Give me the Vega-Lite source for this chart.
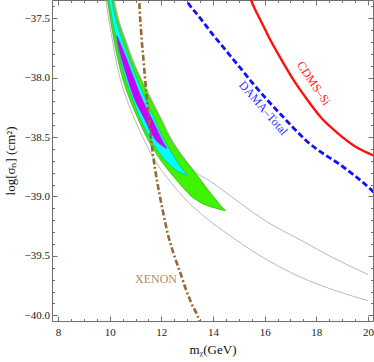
{
  "$schema": "https://vega.github.io/schema/vega-lite/v6.json",
  "width": 321,
  "height": 321,
  "autosize": {"type": "none"},
  "padding": {"left": 52, "top": 0, "right": 1, "bottom": 41},
  "background": "white",
  "config": {
    "view": {"stroke": null},
    "font": "Liberation Serif",
    "axis": {
      "grid": false,
      "domainColor": "#707070",
      "tickColor": "#707070",
      "labelFont": "Liberation Serif",
      "labelFontSize": 11,
      "labelColor": "#222222",
      "titleFont": "Liberation Serif",
      "titleFontSize": 13,
      "titleFontWeight": "normal",
      "titleColor": "#111111",
      "labelFlush": false,
      "labelOverlap": false
    }
  },
  "datasets": {
    "gray": [
      {"curve": "upper", "x": 9.996, "y": -37.178},
      {"curve": "upper", "x": 10.182, "y": -37.346},
      {"curve": "upper", "x": 10.357, "y": -37.514},
      {"curve": "upper", "x": 10.629, "y": -37.683},
      {"curve": "upper", "x": 10.901, "y": -37.851},
      {"curve": "upper", "x": 11.25, "y": -38.019},
      {"curve": "upper", "x": 11.639, "y": -38.188},
      {"curve": "upper", "x": 12.027, "y": -38.356},
      {"curve": "upper", "x": 12.416, "y": -38.524},
      {"curve": "upper", "x": 12.804, "y": -38.651},
      {"curve": "upper", "x": 13.231, "y": -38.777},
      {"curve": "upper", "x": 13.891, "y": -38.87},
      {"curve": "upper", "x": 14.785, "y": -39.013},
      {"curve": "upper", "x": 16.105, "y": -39.215},
      {"curve": "upper", "x": 17.387, "y": -39.366},
      {"curve": "upper", "x": 18.668, "y": -39.518},
      {"curve": "upper", "x": 20.0, "y": -39.657},
      {"curve": "lower", "x": 9.736, "y": -37.178},
      {"curve": "lower", "x": 9.852, "y": -37.346},
      {"curve": "lower", "x": 9.969, "y": -37.514},
      {"curve": "lower", "x": 10.105, "y": -37.683},
      {"curve": "lower", "x": 10.241, "y": -37.851},
      {"curve": "lower", "x": 10.42, "y": -38.019},
      {"curve": "lower", "x": 10.67, "y": -38.188},
      {"curve": "lower", "x": 10.98, "y": -38.356},
      {"curve": "lower", "x": 11.33, "y": -38.524},
      {"curve": "lower", "x": 11.63, "y": -38.651},
      {"curve": "lower", "x": 12.0, "y": -38.777},
      {"curve": "lower", "x": 12.454, "y": -38.903},
      {"curve": "lower", "x": 12.959, "y": -39.029},
      {"curve": "lower", "x": 13.503, "y": -39.139},
      {"curve": "lower", "x": 14.785, "y": -39.349},
      {"curve": "lower", "x": 16.105, "y": -39.535},
      {"curve": "lower", "x": 17.387, "y": -39.678},
      {"curve": "lower", "x": 18.668, "y": -39.787},
      {"curve": "lower", "x": 20.0, "y": -39.877}
    ],
    "green": [
      {"y": -37.178, "x1": 9.775, "x2": 9.988},
      {"y": -37.346, "x1": 9.911, "x2": 10.144},
      {"y": -37.514, "x1": 10.027, "x2": 10.318},
      {"y": -37.683, "x1": 10.163, "x2": 10.59},
      {"y": -37.851, "x1": 10.318, "x2": 10.862},
      {"y": -38.019, "x1": 10.513, "x2": 11.212},
      {"y": -38.188, "x1": 10.785, "x2": 11.6},
      {"y": -38.356, "x1": 11.115, "x2": 11.988},
      {"y": -38.524, "x1": 11.484, "x2": 12.377},
      {"y": -38.651, "x1": 11.833, "x2": 12.765},
      {"y": -38.777, "x1": 12.26, "x2": 13.231},
      {"y": -38.878, "x1": 12.649, "x2": 13.581},
      {"y": -38.945, "x1": 12.92, "x2": 13.814},
      {"y": -39.029, "x1": 13.348, "x2": 14.125},
      {"y": -39.08, "x1": 13.814, "x2": 14.319},
      {"y": -39.118, "x1": 14.435, "x2": 14.493}
    ],
    "cyan": [
      {"y": -37.178, "x1": 9.852, "x2": 10.008},
      {"y": -37.346, "x1": 9.969, "x2": 10.085},
      {"y": -37.514, "x1": 10.105, "x2": 10.241},
      {"y": -37.683, "x1": 10.26, "x2": 10.493},
      {"y": -37.851, "x1": 10.416, "x2": 10.765},
      {"y": -38.019, "x1": 10.629, "x2": 11.076},
      {"y": -38.188, "x1": 10.901, "x2": 11.406},
      {"y": -38.356, "x1": 11.212, "x2": 11.755},
      {"y": -38.524, "x1": 11.6, "x2": 12.105},
      {"y": -38.651, "x1": 11.988, "x2": 12.454},
      {"y": -38.735, "x1": 12.338, "x2": 12.688},
      {"y": -38.794, "x1": 12.688, "x2": 12.901},
      {"y": -38.819, "x1": 12.959, "x2": 12.998}
    ],
    "magenta": [
      {"y": -37.649, "x1": 10.272, "x2": 10.291},
      {"y": -37.725, "x1": 10.326, "x2": 10.435},
      {"y": -37.851, "x1": 10.474, "x2": 10.668},
      {"y": -38.019, "x1": 10.707, "x2": 10.959},
      {"y": -38.188, "x1": 10.979, "x2": 11.27},
      {"y": -38.356, "x1": 11.367, "x2": 11.658},
      {"y": -38.482, "x1": 11.658, "x2": 11.93},
      {"y": -38.55, "x1": 11.891, "x2": 12.085},
      {"y": -38.594, "x1": 12.183, "x2": 12.214}
    ],
    "xenon": [
      {"x": 11.134, "y": -37.262},
      {"x": 11.146, "y": -37.346},
      {"x": 11.212, "y": -37.599},
      {"x": 11.309, "y": -37.851},
      {"x": 11.445, "y": -38.188},
      {"x": 11.561, "y": -38.44},
      {"x": 11.678, "y": -38.651},
      {"x": 11.833, "y": -38.87},
      {"x": 11.95, "y": -39.004},
      {"x": 12.066, "y": -39.131},
      {"x": 12.26, "y": -39.324},
      {"x": 12.532, "y": -39.518},
      {"x": 12.765, "y": -39.661},
      {"x": 12.959, "y": -39.787},
      {"x": 13.192, "y": -39.913},
      {"x": 13.464, "y": -40.048},
      {"x": 13.542, "y": -40.124}
    ],
    "dama": [
      {"x": 12.843, "y": -37.304},
      {"x": 12.959, "y": -37.346},
      {"x": 13.503, "y": -37.498},
      {"x": 14.008, "y": -37.641},
      {"x": 14.552, "y": -37.784},
      {"x": 15.056, "y": -37.918},
      {"x": 15.561, "y": -38.053},
      {"x": 16.105, "y": -38.188},
      {"x": 16.61, "y": -38.306},
      {"x": 17.115, "y": -38.423},
      {"x": 17.581, "y": -38.524},
      {"x": 18.008, "y": -38.6},
      {"x": 18.474, "y": -38.668},
      {"x": 18.94, "y": -38.735},
      {"x": 19.406, "y": -38.811},
      {"x": 19.833, "y": -38.886},
      {"x": 20.26, "y": -38.971}
    ],
    "cdms": [
      {"x": 15.406, "y": -37.304},
      {"x": 15.472, "y": -37.346},
      {"x": 15.639, "y": -37.43},
      {"x": 15.833, "y": -37.514},
      {"x": 16.027, "y": -37.599},
      {"x": 16.221, "y": -37.683},
      {"x": 16.61, "y": -37.834},
      {"x": 17.115, "y": -38.019},
      {"x": 17.658, "y": -38.188},
      {"x": 18.163, "y": -38.331},
      {"x": 18.823, "y": -38.466},
      {"x": 19.445, "y": -38.57},
      {"x": 20.26, "y": -38.659}
    ],
    "labels": [
      {"name": "XENON", "x": 11.794, "y": -39.697},
      {"name": "DAMA–Total", "x": 15.95, "y": -38.255},
      {"name": "CDMS–Si", "x": 17.903, "y": -38.047}
    ]
  },
  "resolve": {"axis": {"x": "independent", "y": "independent"}},
  "layer": [
    {
      "data": {"name": "gray"},
      "mark": {"type": "line", "clip": true, "color": "#a6a6a6", "strokeWidth": 0.8, "interpolate": "monotone"},
      "encoding": {
        "x": {"field": "x", "type": "quantitative",
          "scale": {"domain": [7.767, 20.194], "nice": false, "zero": false},
          "axis": {
            "orient": "bottom",
            "values": [8, 8.5, 9, 9.5, 10, 10.5, 11, 11.5, 12, 12.5, 13, 13.5, 14, 14.5, 15, 15.5, 16, 16.5, 17, 17.5, 18, 18.5, 19, 19.5, 20],
            "labelExpr": "datum.value % 2 === 0 ? format(datum.value, 'd') : ''",
            "tickSize": {"condition": {"test": "datum.value % 2 === 0", "value": -5}, "value": -2.5},
            "labelPadding": 10,
            "title": "mᵪ(GeV)",
            "titlePadding": 4
          }},
        "y": {"field": "y", "type": "quantitative",
          "scale": {"domain": [-40.048, -37.346], "nice": false, "zero": false},
          "axis": {
            "orient": "left",
            "values": [-40, -39.9, -39.8, -39.7, -39.6, -39.5, -39.4, -39.3, -39.2, -39.1, -39, -38.9, -38.8, -38.7, -38.6, -38.5, -38.4, -38.3, -38.2, -38.1, -38, -37.9, -37.8, -37.7, -37.6, -37.5, -37.4],
            "labelExpr": "abs(datum.value*2 - round(datum.value*2)) < 0.001 ? format(datum.value, '.1f') : ''",
            "tickSize": {"condition": {"test": "abs(datum.value*2 - round(datum.value*2)) < 0.001", "value": -5}, "value": -2.5},
            "labelPadding": 7.5,
            "title": "log[σₙ] (cm²)",
            "titlePadding": 7
          }},
        "detail": {"field": "curve"}
      }
    },
    {
      "data": {"name": "green"},
      "mark": {"type": "area", "orient": "horizontal", "interpolate": "monotone", "clip": true, "color": "#3ff200", "stroke": "#2c9a10", "strokeWidth": 0.6},
      "encoding": {
        "y": {"field": "y", "type": "quantitative", "scale": {"domain": [-40.048, -37.346], "nice": false, "zero": false}, "axis": null},
        "x": {"field": "x1", "type": "quantitative", "scale": {"domain": [7.767, 20.194], "nice": false, "zero": false}, "axis": null},
        "x2": {"field": "x2"}
      }
    },
    {
      "data": {"name": "cyan"},
      "mark": {"type": "area", "orient": "horizontal", "interpolate": "monotone", "clip": true, "color": "#00ffff", "stroke": "#1aa0a0", "strokeWidth": 0.6},
      "encoding": {
        "y": {"field": "y", "type": "quantitative", "scale": {"domain": [-40.048, -37.346], "nice": false, "zero": false}, "axis": null},
        "x": {"field": "x1", "type": "quantitative", "scale": {"domain": [7.767, 20.194], "nice": false, "zero": false}, "axis": null},
        "x2": {"field": "x2"}
      }
    },
    {
      "data": {"name": "magenta"},
      "mark": {"type": "area", "orient": "horizontal", "interpolate": "monotone", "clip": true, "color": "#cc00ff", "stroke": "#9a20c0", "strokeWidth": 0.6},
      "encoding": {
        "y": {"field": "y", "type": "quantitative", "scale": {"domain": [-40.048, -37.346], "nice": false, "zero": false}, "axis": null},
        "x": {"field": "x1", "type": "quantitative", "scale": {"domain": [7.767, 20.194], "nice": false, "zero": false}, "axis": null},
        "x2": {"field": "x2"}
      }
    },
    {
      "data": {"name": "xenon"},
      "mark": {"type": "line", "clip": true, "interpolate": "monotone", "color": "#9c6634", "strokeWidth": 2.6, "strokeDash": [6, 2.5, 2, 2.5]},
      "encoding": {
        "x": {"field": "x", "type": "quantitative", "scale": {"domain": [7.767, 20.194], "nice": false, "zero": false}, "axis": null},
        "y": {"field": "y", "type": "quantitative", "scale": {"domain": [-40.048, -37.346], "nice": false, "zero": false}, "axis": null}
      }
    },
    {
      "data": {"name": "dama"},
      "mark": {"type": "line", "clip": true, "interpolate": "monotone", "color": "#1010ff", "strokeWidth": 2.8, "strokeDash": [6, 3]},
      "encoding": {
        "x": {"field": "x", "type": "quantitative", "scale": {"domain": [7.767, 20.194], "nice": false, "zero": false}, "axis": null},
        "y": {"field": "y", "type": "quantitative", "scale": {"domain": [-40.048, -37.346], "nice": false, "zero": false}, "axis": null}
      }
    },
    {
      "data": {"name": "cdms"},
      "mark": {"type": "line", "clip": true, "interpolate": "monotone", "color": "#ff1010", "strokeWidth": 2.4},
      "encoding": {
        "x": {"field": "x", "type": "quantitative", "scale": {"domain": [7.767, 20.194], "nice": false, "zero": false},
          "axis": {
            "orient": "top",
            "values": [8, 8.5, 9, 9.5, 10, 10.5, 11, 11.5, 12, 12.5, 13, 13.5, 14, 14.5, 15, 15.5, 16, 16.5, 17, 17.5, 18, 18.5, 19, 19.5, 20],
            "labels": false,
            "title": null,
            "tickSize": {"condition": {"test": "datum.value % 2 === 0", "value": -5}, "value": -2.5}
          }},
        "y": {"field": "y", "type": "quantitative", "scale": {"domain": [-40.048, -37.346], "nice": false, "zero": false},
          "axis": {
            "orient": "right",
            "values": [-40, -39.9, -39.8, -39.7, -39.6, -39.5, -39.4, -39.3, -39.2, -39.1, -39, -38.9, -38.8, -38.7, -38.6, -38.5, -38.4, -38.3, -38.2, -38.1, -38, -37.9, -37.8, -37.7, -37.6, -37.5, -37.4],
            "labels": false,
            "title": null,
            "tickSize": {"condition": {"test": "abs(datum.value*2 - round(datum.value*2)) < 0.001", "value": -5}, "value": -2.5}
          }}
      }
    },
    {
      "data": {"name": "labels"},
      "transform": [{"filter": "datum.name === 'XENON'"}],
      "mark": {"type": "text", "font": "Liberation Serif", "fontSize": 12, "color": "#b58b60", "align": "center", "baseline": "middle"},
      "encoding": {
        "x": {"field": "x", "type": "quantitative", "scale": {"domain": [7.767, 20.194], "nice": false, "zero": false}, "axis": null},
        "y": {"field": "y", "type": "quantitative", "scale": {"domain": [-40.048, -37.346], "nice": false, "zero": false}, "axis": null},
        "text": {"field": "name"}
      }
    },
    {
      "data": {"name": "labels"},
      "transform": [{"filter": "datum.name === 'DAMA–Total'"}],
      "mark": {"type": "text", "font": "Liberation Serif", "fontSize": 12, "color": "#3333ff", "align": "center", "baseline": "middle", "angle": 49},
      "encoding": {
        "x": {"field": "x", "type": "quantitative", "scale": {"domain": [7.767, 20.194], "nice": false, "zero": false}, "axis": null},
        "y": {"field": "y", "type": "quantitative", "scale": {"domain": [-40.048, -37.346], "nice": false, "zero": false}, "axis": null},
        "text": {"field": "name"}
      }
    },
    {
      "data": {"name": "labels"},
      "transform": [{"filter": "datum.name === 'CDMS–Si'"}],
      "mark": {"type": "text", "font": "Liberation Serif", "fontSize": 12, "color": "#ff2020", "align": "center", "baseline": "middle", "angle": 56},
      "encoding": {
        "x": {"field": "x", "type": "quantitative", "scale": {"domain": [7.767, 20.194], "nice": false, "zero": false}, "axis": null},
        "y": {"field": "y", "type": "quantitative", "scale": {"domain": [-40.048, -37.346], "nice": false, "zero": false}, "axis": null},
        "text": {"field": "name"}
      }
    }
  ]
}
